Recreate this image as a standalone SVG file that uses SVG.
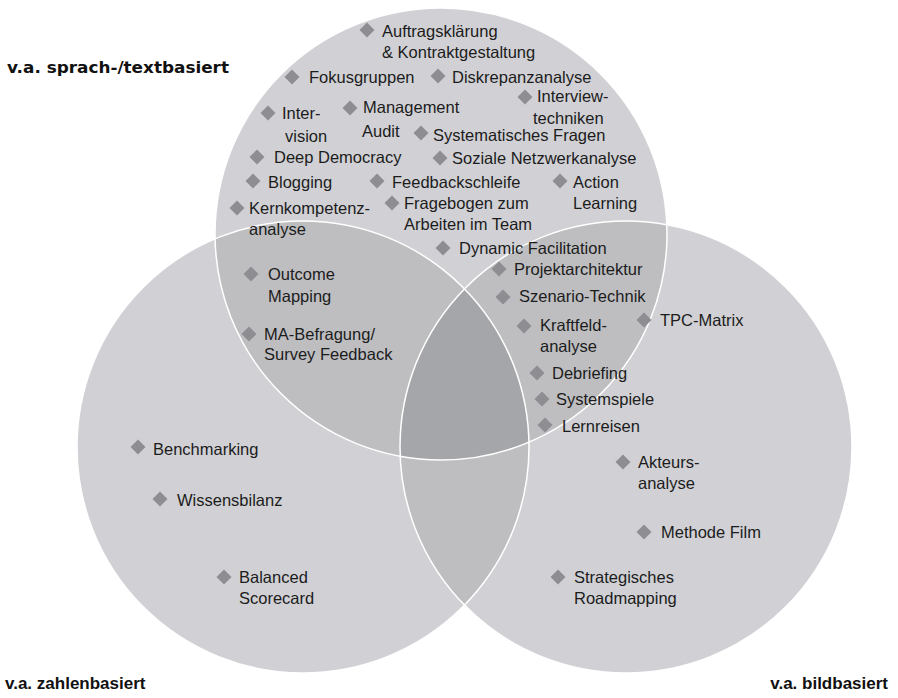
<svg xmlns="http://www.w3.org/2000/svg" xmlns:xlink="http://www.w3.org/1999/xlink" width="898" height="698" viewBox="0 0 898 698">
<style>
.t{font-family:"Liberation Sans",Arial,sans-serif;font-size:16.5px;fill:#1c1c1c}
.lb{font-family:"DejaVu Sans","Liberation Sans",Arial,sans-serif;font-size:16.5px;font-weight:bold;fill:#111}
.lb2{font-family:"Liberation Sans",Arial,sans-serif;font-size:17px;font-weight:bold;fill:#111}
.s1{fill:#d1d1d5}.s2{fill:#bebec1}.s3{fill:#a5a6aa}
.ol{fill:none;stroke:#fff;stroke-width:1.5}
</style>
<defs>
<clipPath id="cT"><circle cx="441" cy="234" r="226"/></clipPath>
<clipPath id="cL"><circle cx="303" cy="447" r="226"/></clipPath>
<path id="dm" d="M0,-7.5L7.5,0L0,7.5L-7.5,0Z" fill="#8e8e92"/>
</defs>
<g id="venn">
<circle class="s1" cx="441" cy="234" r="226"/>
<circle class="s1" cx="303" cy="447" r="226"/>
<circle class="s1" cx="626" cy="447" r="226"/>
<g clip-path="url(#cT)"><circle class="s2" cx="303" cy="447" r="226"/><circle class="s2" cx="626" cy="447" r="226"/></g>
<g clip-path="url(#cL)"><circle class="s2" cx="626" cy="447" r="226"/></g>
<g clip-path="url(#cT)"><g clip-path="url(#cL)"><circle class="s3" cx="626" cy="447" r="226"/></g></g>
<circle class="ol" cx="441" cy="234" r="226"/>
<circle class="ol" cx="303" cy="447" r="226"/>
<circle class="ol" cx="626" cy="447" r="226"/>
</g>
<g id="connectors"/>
<g id="labels">
<text class="lb" x="7" y="73" textLength="222" lengthAdjust="spacingAndGlyphs">v.a. sprach-/textbasiert</text>
<text class="lb2" x="5" y="689">v.a. zahlenbasiert</text>
<text class="lb2" x="888" y="689" text-anchor="end">v.a. bildbasiert</text>
</g>
<g id="n-auftrag"><use href="#dm" x="367" y="30"/><text class="t" x="382" y="37">Auftragsklärung</text><text class="t" x="382" y="58">&amp; Kontraktgestaltung</text></g>
<g id="n-fokus"><use href="#dm" x="292" y="77"/><text class="t" x="309" y="83">Fokusgruppen</text></g>
<g id="n-diskrepanz"><use href="#dm" x="438" y="76"/><text class="t" x="452" y="83">Diskrepanzanalyse</text></g>
<g id="n-interview"><use href="#dm" x="525" y="97"/><text class="t" x="537" y="102">Interview-</text><text class="t" x="533" y="124">techniken</text></g>
<g id="n-intervision"><use href="#dm" x="268" y="113"/><text class="t" x="282" y="119">Inter-</text><text class="t" x="285" y="142">vision</text></g>
<g id="n-management"><use href="#dm" x="350" y="108"/><text class="t" x="363" y="113">Management</text><text class="t" x="362" y="137">Audit</text></g>
<g id="n-systematisch"><use href="#dm" x="421" y="133"/><text class="t" x="433" y="141">Systematisches Fragen</text></g>
<g id="n-deep"><use href="#dm" x="257" y="157"/><text class="t" x="274" y="163">Deep Democracy</text></g>
<g id="n-soziale"><use href="#dm" x="440" y="158"/><text class="t" x="452" y="164">Soziale Netzwerkanalyse</text></g>
<g id="n-blogging"><use href="#dm" x="253" y="181"/><text class="t" x="268" y="188">Blogging</text></g>
<g id="n-feedbackschleife"><use href="#dm" x="377" y="181"/><text class="t" x="392" y="188">Feedbackschleife</text></g>
<g id="n-action"><use href="#dm" x="560" y="181"/><text class="t" x="573" y="188">Action</text><text class="t" x="573" y="209">Learning</text></g>
<g id="n-fragebogen"><use href="#dm" x="392" y="203"/><text class="t" x="404" y="209">Fragebogen zum</text><text class="t" x="404" y="230">Arbeiten im Team</text></g>
<g id="n-kernkompetenz"><use href="#dm" x="237" y="208"/><text class="t" x="249" y="214">Kernkompetenz-</text><text class="t" x="249" y="235">analyse</text></g>
<g id="n-dynamic"><use href="#dm" x="443" y="248"/><text class="t" x="459" y="254">Dynamic Facilitation</text></g>
<g id="n-projekt"><use href="#dm" x="499" y="269"/><text class="t" x="514" y="275">Projektarchitektur</text></g>
<g id="n-szenario"><use href="#dm" x="503" y="297"/><text class="t" x="519" y="302">Szenario-Technik</text></g>
<g id="n-kraftfeld"><use href="#dm" x="524" y="326"/><text class="t" x="540" y="331">Kraftfeld-</text><text class="t" x="540" y="352">analyse</text></g>
<g id="n-tpc"><use href="#dm" x="644" y="320"/><text class="t" x="660" y="326">TPC-Matrix</text></g>
<g id="n-debriefing"><use href="#dm" x="537" y="373"/><text class="t" x="552" y="379">Debriefing</text></g>
<g id="n-systemspiele"><use href="#dm" x="542" y="399"/><text class="t" x="556" y="405">Systemspiele</text></g>
<g id="n-lernreisen"><use href="#dm" x="545" y="425"/><text class="t" x="562" y="432">Lernreisen</text></g>
<g id="n-outcome"><use href="#dm" x="251" y="274"/><text class="t" x="268" y="280">Outcome</text><text class="t" x="268" y="302">Mapping</text></g>
<g id="n-mabefragung"><use href="#dm" x="249" y="334"/><text class="t" x="264" y="340">MA-Befragung/</text><text class="t" x="264" y="360">Survey Feedback</text></g>
<g id="n-benchmarking"><use href="#dm" x="138" y="447"/><text class="t" x="153" y="455">Benchmarking</text></g>
<g id="n-wissensbilanz"><use href="#dm" x="160" y="499"/><text class="t" x="177" y="506">Wissensbilanz</text></g>
<g id="n-balanced"><use href="#dm" x="224" y="577"/><text class="t" x="239" y="583">Balanced</text><text class="t" x="239" y="604">Scorecard</text></g>
<g id="n-akteurs"><use href="#dm" x="623" y="462"/><text class="t" x="638" y="468">Akteurs-</text><text class="t" x="638" y="489">analyse</text></g>
<g id="n-methode"><use href="#dm" x="644" y="532"/><text class="t" x="661" y="538">Methode Film</text></g>
<g id="n-strategisch"><use href="#dm" x="558" y="577"/><text class="t" x="574" y="583">Strategisches</text><text class="t" x="574" y="604">Roadmapping</text></g>
</svg>
